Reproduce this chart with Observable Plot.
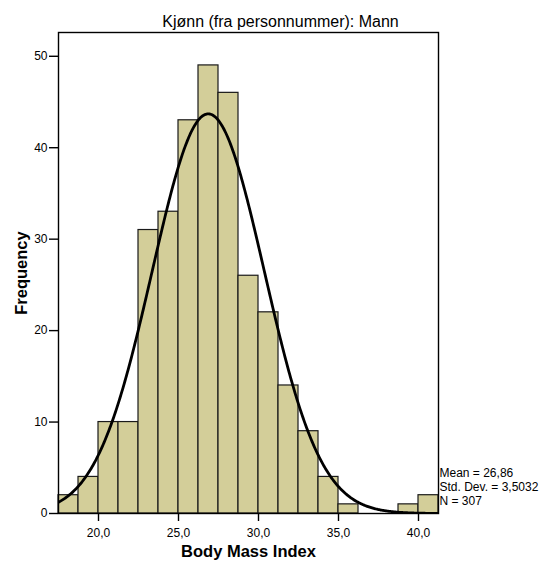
<!DOCTYPE html>
<html>
<head>
<meta charset="utf-8">
<script src="https://cdn.jsdelivr.net/npm/d3@7"></script>
<script src="https://cdn.jsdelivr.net/npm/@observablehq/plot@0.6"></script>
<style>
  html, body { margin: 0; padding: 0; background: #fff; }
  svg { display: block; }
</style>
</head>
<body>
<div id="chart"></div>
<script>
// Histogram bins (lower edges) and counts
const binStart = [17.5, 18.75, 20, 21.25, 22.5, 23.75, 25, 26.25, 27.5, 28.75, 30, 31.25, 32.5, 33.75, 35, 36.25, 37.5, 38.75, 40];
const counts   = [2, 4, 10, 10, 31, 33, 43, 49, 46, 26, 22, 14, 9, 4, 1, 0, 0, 1, 2];
const binWidth = 1.25;

// Summary statistics shown on the chart
const mean = 26.86;
const stdDev = 3.5032;
const nObs = 307;

const xTicks = [20, 25, 30, 35, 40];
const yTicks = [0, 10, 20, 30, 40, 50];

const title = "Kjønn (fra personnummer): Mann";
const xLabel = "Body Mass Index";
const yLabel = "Frequency";
const statsLines = ["Mean = 26,86", "Std. Dev. = 3,5032", "N = 307"];

const xDomain = [17.5, 41.25];
const yDomain = [0, 52.6];

const bars = binStart.map((x, i) => ({x1: x, x2: x + binWidth, y: counts[i]})).filter(d => d.y > 0);

// Fitted normal curve from mean / std. dev. (scaled to counts per bin)
const curve = d3.range(xDomain[0], xDomain[1] + 0.001, 0.05).map(x => ({
  x,
  y: nObs * binWidth * Math.exp(-0.5 * ((x - mean) / stdDev) ** 2) / (stdDev * Math.sqrt(2 * Math.PI))
}));

const fmtX = d => d.toFixed(1).replace(".", ",");

const chart = Plot.plot({
  width: 544,
  height: 562,
  marginLeft: 58,
  marginRight: 106,
  marginTop: 32,
  marginBottom: 49,
  style: {fontFamily: "'Liberation Sans', Arial, sans-serif", fontSize: "12px", color: "#000", background: "#fff"},
  x: {domain: xDomain},
  y: {domain: yDomain},
  marks: [
    Plot.rectY(bars, {x1: "x1", x2: "x2", y: "y", fill: "#d3ce99", stroke: "#1a1a1a", strokeWidth: 1.2}),
    Plot.line(curve, {x: "x", y: "y", stroke: "#000", strokeWidth: 2.8, clip: true}),
    Plot.frame({stroke: "#000", strokeWidth: 1.4}),
    Plot.axisX({ticks: xTicks, tickFormat: fmtX, tickSize: 8, tickPadding: 7, fontSize: 12, label: null, stroke: "#000", strokeWidth: 1.4}),
    Plot.axisY({ticks: yTicks, tickSize: 9, tickPadding: 2, fontSize: 12, label: null, stroke: "#000", strokeWidth: 1.4}),
    Plot.text([title], {frameAnchor: "top", textAnchor: "middle", dx: 32, dy: -11, lineAnchor: "middle", fontSize: 16, fill: "#000"}),
    Plot.text([xLabel], {frameAnchor: "bottom", textAnchor: "middle", dy: 38, lineAnchor: "middle", fontSize: 16.5, fontWeight: "bold", fill: "#000"}),
    Plot.text([yLabel], {frameAnchor: "left", textAnchor: "middle", dx: -37, rotate: -90, lineAnchor: "middle", fontSize: 16.5, fontWeight: "bold", fill: "#000"}),
    Plot.text([statsLines.join("\n")], {frameAnchor: "bottom-right", textAnchor: "start", dx: 1, dy: -27, lineAnchor: "middle", lineHeight: 1.14, fontSize: 12, fill: "#000"})
  ]
});

document.getElementById("chart").appendChild(chart);
</script>
</body>
</html>
